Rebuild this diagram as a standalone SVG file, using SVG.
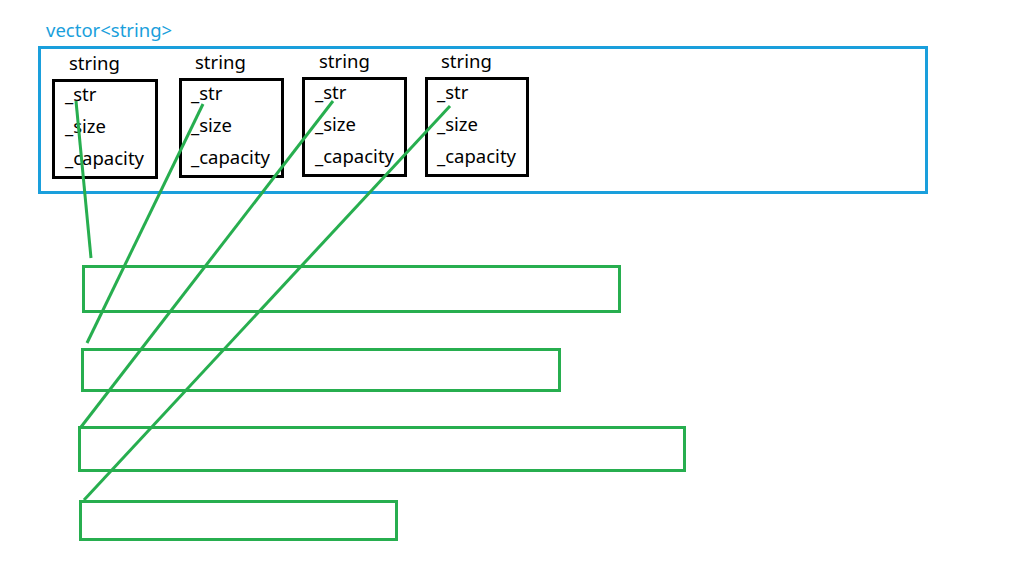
<svg xmlns="http://www.w3.org/2000/svg" width="1030" height="566" viewBox="0 0 1030 566">
<style>
text{font-family:"Noto Sans","Open Sans","Liberation Sans",sans-serif;font-size:18.5px;fill:#000}
.title{fill:#1a9fdc}
.blk{fill:none;stroke:#000;stroke-width:3}
.grn{fill:none;stroke:#27ae4f;stroke-width:3}
.blue{fill:none;stroke:#1a9fdc;stroke-width:3}
</style>
<rect width="1030" height="566" fill="#fff"/>
<g id="vector">
<text class="title" x="46" y="37">vector&lt;string&gt;</text>
<rect class="blue" x="39.5" y="47.5" width="887" height="145"/>
</g>
<g id="string1">
<text x="69" y="70">string</text>
<rect class="blk" x="53.5" y="80.5" width="103" height="97"/>
<text x="65" y="101">_str</text>
<text x="65" y="133">_size</text>
<text x="65" y="165">_capacity</text>
</g>
<g id="string2">
<text x="195" y="69">string</text>
<rect class="blk" x="180.5" y="79.5" width="102" height="97"/>
<text x="191" y="100">_str</text>
<text x="191" y="132">_size</text>
<text x="191" y="164">_capacity</text>
</g>
<g id="string3">
<text x="319" y="68">string</text>
<rect class="blk" x="303.5" y="78.5" width="102" height="97"/>
<text x="315" y="99">_str</text>
<text x="315" y="131">_size</text>
<text x="315" y="163">_capacity</text>
</g>
<g id="string4">
<text x="441" y="68">string</text>
<rect class="blk" x="426.5" y="78.5" width="101" height="97"/>
<text x="437" y="99">_str</text>
<text x="437" y="131">_size</text>
<text x="437" y="163">_capacity</text>
</g>
<g id="buf1"><rect class="grn" x="83.5" y="266.5" width="536" height="45"/></g>
<g id="buf2"><rect class="grn" x="82.5" y="349.5" width="477" height="41"/></g>
<g id="buf3"><rect class="grn" x="79.5" y="427.5" width="605" height="43"/></g>
<g id="buf4"><rect class="grn" x="80.5" y="501.5" width="316" height="38"/></g>
<g id="connectors">
<line class="grn" x1="76" y1="101" x2="91" y2="258"/>
<line class="grn" x1="203" y1="104" x2="87" y2="343"/>
<line class="grn" x1="333" y1="101" x2="81" y2="427"/>
<line class="grn" x1="450" y1="106" x2="84" y2="500"/>
</g>
</svg>
